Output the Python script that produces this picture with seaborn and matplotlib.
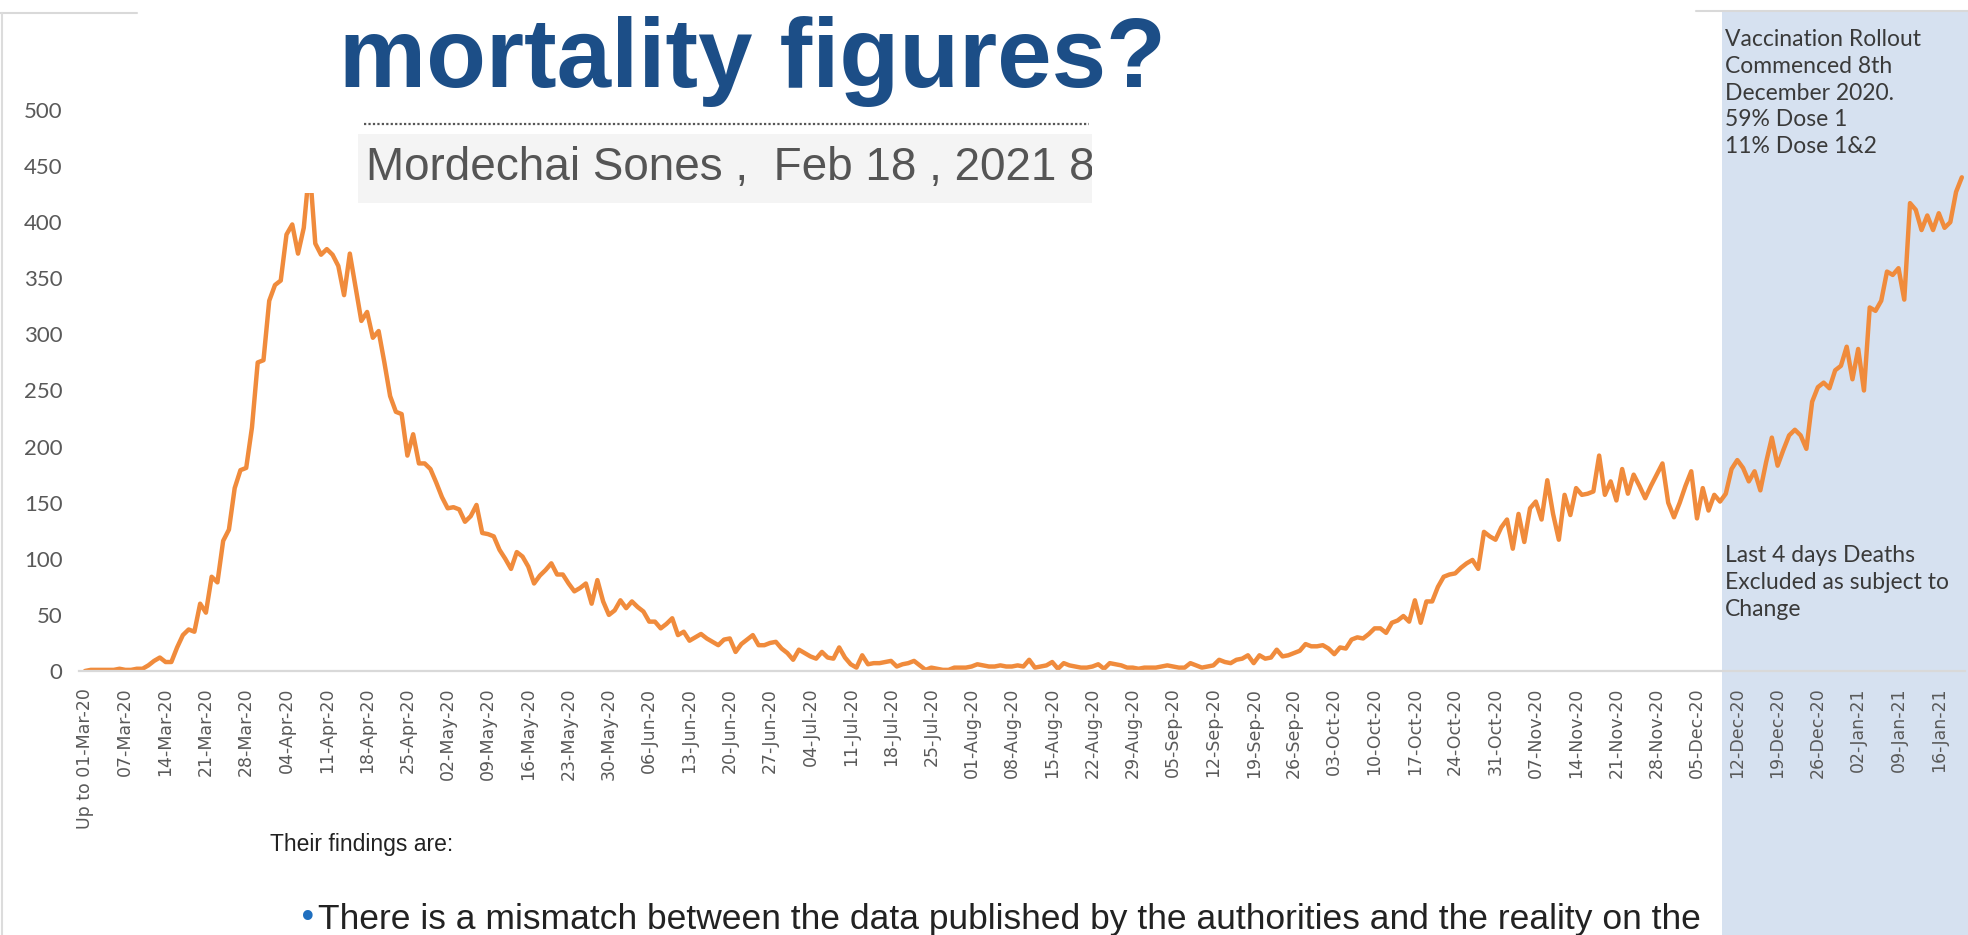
import matplotlib
matplotlib.use('Agg')
import matplotlib.pyplot as plt
import seaborn as sns
from matplotlib.patches import Rectangle
from matplotlib.lines import Line2D

# Daily deaths, index 0 = "Up to 01-Mar-20"
deaths = [
    0, 1, 1, 1, 1, 1, 2, 1, 1, 2,
    2, 5, 9, 12, 8, 8, 21, 32, 37, 35,
    60, 52, 84, 79, 116, 126, 163, 179, 181, 217,
    275, 277, 330, 344, 348, 389, 398, 372, 395, 450,
    381, 371, 376, 371, 361, 335, 372, 342, 312, 320,
    297, 303, 275, 245, 231, 229, 192, 211, 185, 185,
    180, 168, 155, 145, 146, 144, 133, 138, 148, 123,
    122, 120, 108, 100, 91, 106, 102, 93, 78, 85,
    90, 96, 86, 86, 78, 71, 74, 78, 60, 81,
    62, 50, 54, 63, 56, 62, 57, 53, 44, 44,
    38, 42, 47, 32, 35, 27, 30, 33, 29, 26,
    23, 28, 29, 17, 24, 28, 32, 23, 23, 25,
    26, 20, 16, 10, 19, 16, 13, 11, 17, 12,
    11, 21, 12, 6, 3, 14, 6, 7, 7, 8,
    9, 4, 6, 7, 9, 5, 1, 3, 2, 1,
    1, 3, 3, 3, 4, 6, 5, 4, 4, 5,
    4, 4, 5, 4, 10, 3, 4, 5, 8, 2,
    7, 5, 4, 3, 3, 4, 6, 2, 7, 6,
    5, 3, 3, 2, 3, 3, 3, 4, 5, 4,
    3, 3, 7, 5, 3, 4, 5, 10, 8, 7,
    10, 11, 14, 7, 14, 11, 12, 19, 13, 14,
    16, 18, 24, 22, 22, 23, 20, 15, 21, 20,
    28, 30, 29, 33, 38, 38, 34, 43, 45, 49,
    44, 63, 43, 62, 62, 75, 84, 86, 87, 92,
    96, 99, 91, 124, 120, 117, 128, 135, 109, 140,
    115, 145, 151, 135, 170, 140, 117, 157, 139, 163,
    157, 158, 160, 192, 157, 169, 152, 180, 158, 175,
    165, 154, 165, 175, 185, 150, 137, 150, 165, 178,
    136, 163, 143, 157, 151, 158, 180, 188, 181, 169,
    178, 161, 186, 208, 183, 197, 210, 215, 210, 198,
    240, 253, 257, 252, 268, 272, 289, 260, 287, 250,
    324, 321, 330, 356, 353, 359, 331, 417, 411, 393,
    406, 393, 408, 395, 400, 427, 440,
]
days = list(range(len(deaths)))

week_labels = [
    "Up to 01-Mar-20", "07-Mar-20", "14-Mar-20", "21-Mar-20", "28-Mar-20",
    "04-Apr-20", "11-Apr-20", "18-Apr-20", "25-Apr-20", "02-May-20",
    "09-May-20", "16-May-20", "23-May-20", "30-May-20", "06-Jun-20",
    "13-Jun-20", "20-Jun-20", "27-Jun-20", "04-Jul-20", "11-Jul-20",
    "18-Jul-20", "25-Jul-20", "01-Aug-20", "08-Aug-20", "15-Aug-20",
    "22-Aug-20", "29-Aug-20", "05-Sep-20", "12-Sep-20", "19-Sep-20",
    "26-Sep-20", "03-Oct-20", "10-Oct-20", "17-Oct-20", "24-Oct-20",
    "31-Oct-20", "07-Nov-20", "14-Nov-20", "21-Nov-20", "28-Nov-20",
    "05-Dec-20", "12-Dec-20", "19-Dec-20", "26-Dec-20", "02-Jan-21",
    "09-Jan-21", "16-Jan-21",
]
week_ticks = [7 * i for i in range(len(week_labels))]
y_ticks = [0, 50, 100, 150, 200, 250, 300, 350, 400, 450, 500]
vaccine_start = 284.4  # ~8/9 Dec 2020

vaccine_note = "Vaccination Rollout\nCommenced 8th\nDecember 2020.\n59% Dose 1\n11% Dose 1&2"
excluded_note = "Last 4 days Deaths\nExcluded as subject to\nChange"

sns.set_style('white')

W, H = 1968, 935
fig = plt.figure(figsize=(W / 100, H / 100), dpi=100)

# plot area in pixels: y=0 at 671px, y=500 at 110px, day 0 at 85px
px_per_day = 40.3 / 7
x_lo, x_hi = -1.0, 326.6
left_px = 85 + x_lo * px_per_day
right_px = 85 + x_hi * px_per_day
ax = fig.add_axes([left_px / W, (H - 671) / H, (right_px - left_px) / W, (671 - 110) / H])
ax.set_facecolor('white')

# vaccination shading reaching from the frame top to the image bottom
ax.axvspan(vaccine_start, 340, ymin=(671 - H) / 561, ymax=(671 - 11) / 561,
           color='#d6e1f0', clip_on=False, zorder=0.5, lw=0)

sns.lineplot(x=days, y=deaths, ax=ax, color='#f08b3c', linewidth=3.2, zorder=2)

ax.set_xlim(x_lo, x_hi)
ax.set_ylim(0, 500)
ax.set_xticks(week_ticks)
ax.set_xticklabels(week_labels, rotation=90, fontsize=12.5, color='#595959',
                   family='DejaVu Sans')
ax.set_yticks(y_ticks)
ax.set_yticklabels([str(v) for v in y_ticks], fontsize=16, color='#595959', family='Lato')
ax.tick_params(axis='x', length=0, pad=12)
ax.tick_params(axis='y', length=0, pad=12)
ax.set_xlabel('')
ax.set_ylabel('')
for side in ['left', 'top', 'right']:
    ax.spines[side].set_visible(False)
ax.spines['bottom'].set_color('#d9d9d9')
ax.spines['bottom'].set_linewidth(1.6)
ax.grid(False)


def fx(px):
    return px / W


def fy(py):
    return 1 - py / H


# chart frame pieces still visible around the pasted article
fig.add_artist(Line2D([fx(0), fx(137)], [fy(13), fy(13)], color='#d9d9d9', lw=1.5))
fig.add_artist(Line2D([fx(1696), fx(W)], [fy(11), fy(11)], color='#d9d9d9', lw=1.5))
fig.add_artist(Line2D([fx(2), fx(2)], [fy(13), fy(H)], color='#dcdcdc', lw=1.5))

# pasted article header (covers the top of the peak)
fig.add_artist(Rectangle((fx(250), fy(193)), fx(1030), 193 / H, transform=fig.transFigure,
                         facecolor='white', edgecolor='none', zorder=1))
fig.text(fx(339), fy(87), "mortality figures?", fontsize=70.5, fontweight='bold',
         color='#1c4e87', family=['Liberation Sans', 'DejaVu Sans'],
         ha='left', va='baseline', zorder=3)
fig.add_artist(Line2D([fx(364), fx(1089)], [fy(124), fy(124)], color='#555555',
                      lw=1.6, linestyle=(0, (1, 1)), zorder=3))
byline_box = Rectangle((fx(358), fy(203)), fx(1092 - 358), 69 / H, transform=fig.transFigure,
                       facecolor='#f4f4f4', edgecolor='none', zorder=2)
fig.add_artist(byline_box)
byline = fig.text(fx(366), fy(168), "Mordechai Sones ,  Feb 18 , 2021 8", fontsize=33,
                  color='#555555', family='Liberation Sans',
                  ha='left', va='center', zorder=3)
byline.set_clip_path(byline_box)

# pasted article body at the bottom
fig.text(fx(270), fy(845), "Their findings are:", fontsize=16.5, color='#222222',
         family='Liberation Sans', ha='left', va='center', zorder=3)
fig.text(fx(298), fy(928), "\u2022", fontsize=24, color='#1f6fbf',
         family='DejaVu Sans', ha='left', va='baseline', zorder=3)
fig.text(fx(318), fy(929),
         "There is a mismatch between the data published by the authorities and the reality on the",
         fontsize=25.5, color='#222222', family='Liberation Sans',
         ha='left', va='baseline', zorder=3)

# notes in the shaded area
fig.text(fx(1725), fy(29), vaccine_note, fontsize=16.5, color='#3a3a3a', family='Lato',
         ha='left', va='top', linespacing=1.34, zorder=3)
fig.text(fx(1725), fy(545), excluded_note, fontsize=16.5, color='#3a3a3a', family='Lato',
         ha='left', va='top', linespacing=1.34, zorder=3)

fig.savefig('out.png', dpi=100, facecolor='white')
